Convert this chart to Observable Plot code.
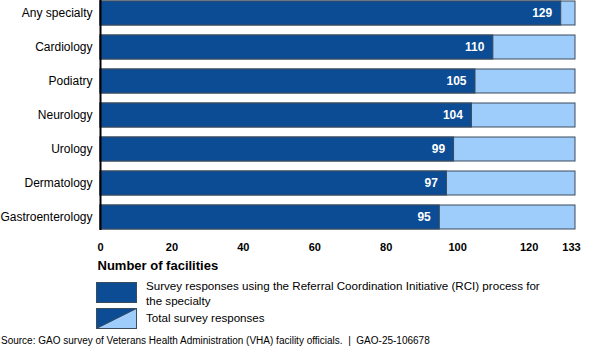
<!DOCTYPE html>
<html>
<head>
<meta charset="utf-8">
<script src="https://cdn.jsdelivr.net/npm/d3@7"></script>
<script src="https://cdn.jsdelivr.net/npm/@observablehq/plot@0.6"></script>
<style>
  html, body { margin: 0; padding: 0; background: #fff; }
  body { width: 600px; height: 350px; overflow: hidden; font-family: "Liberation Sans", Arial, sans-serif; color: #000; position: relative; }
  #chart svg { display: block; }
  .legend { position: absolute; left: 96px; top: 282px; font-size: 11.6px; }
  .row { display: flex; align-items: flex-start; }
  .row svg { display: block; flex: none; }
  .row .txt { margin-left: 9px; line-height: 14.5px; white-space: nowrap; }
  .source { position: absolute; left: 1px; top: 335px; font-size: 10px; white-space: nowrap; }
</style>
</head>
<body>
<div id="chart"></div>
<div class="legend">
  <div class="row" style="height:26px">
    <svg width="41" height="21"><rect x="0.5" y="0.5" width="40" height="20" fill="#0b4c94" stroke="#3b4a5c"/></svg>
    <div class="txt" style="margin-top:-3px">Survey responses using the Referral Coordination Initiative (RCI) process for<br>the specialty</div>
  </div>
  <div class="row">
    <svg width="41" height="21"><rect x="0.5" y="0.5" width="40" height="20" fill="#9fcdfb" stroke="#3b4a5c"/><path d="M0.5,0.5 H40.5 L0.5,20.5 Z" fill="#0b4c94"/><path d="M40.5,0.5 L0.5,20.5" stroke="#3b4a5c"/><rect x="0.5" y="0.5" width="40" height="20" fill="none" stroke="#3b4a5c"/></svg>
    <div class="txt" style="margin-top:2.5px">Total survey responses</div>
  </div>
</div>
<div class="source">Source: GAO survey of Veterans Health Administration (VHA) facility officials.&nbsp; |&nbsp; GAO-25-106678</div>
<script>
const specialties = ["Any specialty", "Cardiology", "Podiatry", "Neurology", "Urology", "Dermatology", "Gastroenterology"];
const rciResponses = [129, 110, 105, 104, 99, 97, 95];
const totalResponses = [133, 133, 133, 133, 133, 133, 133];
const xTicks = [0, 20, 40, 60, 80, 100, 120];
const xMaxTick = [133];

const data = specialties.map((s, i) => ({specialty: s, rci: rciResponses[i], total: totalResponses[i]}));

const dark = "#0b4c94", light = "#9fcdfb", edge = "#3b4a5c";

const chart = Plot.plot({
  width: 600,
  height: 272,
  marginTop: 0,
  marginLeft: 100,
  marginRight: 25,
  marginBottom: 42,
  style: {fontFamily: "Liberation Sans, Arial, sans-serif", fontSize: "12px", color: "#000"},
  x: {domain: [0, 133]},
  y: {domain: specialties, paddingInner: 0.28, paddingOuter: 0},
  marks: [
    Plot.barX(data, {y: "specialty", x: "total", fill: light, stroke: edge, strokeWidth: 1}),
    Plot.barX(data, {y: "specialty", x: "rci", fill: dark, stroke: edge, strokeWidth: 1}),
    Plot.text(data, {y: "specialty", x: "rci", text: d => String(d.rci), textAnchor: "end", dx: -9, fill: "#fff", fontWeight: "bold", fontSize: 12}),
    Plot.ruleX([0], {stroke: "#000", strokeWidth: 2, insetTop: -1}),
    Plot.axisY({tickSize: 0, tickPadding: 8, fontSize: 12, label: null}),
    Plot.axisX({ticks: xTicks, tickSize: 0, tickPadding: 13, fontWeight: "bold", fontSize: 11, label: null}),
    Plot.axisX({ticks: xMaxTick, tickSize: 0, tickPadding: 13, fontWeight: "bold", fontSize: 11, dx: -4, label: null}),
    Plot.text(["Number of facilities"], {frameAnchor: "bottom-left", dx: -3, dy: 39, textAnchor: "start", fontWeight: "bold", fontSize: 13})
  ]
});
document.getElementById("chart").append(chart);
</script>
</body>
</html>
